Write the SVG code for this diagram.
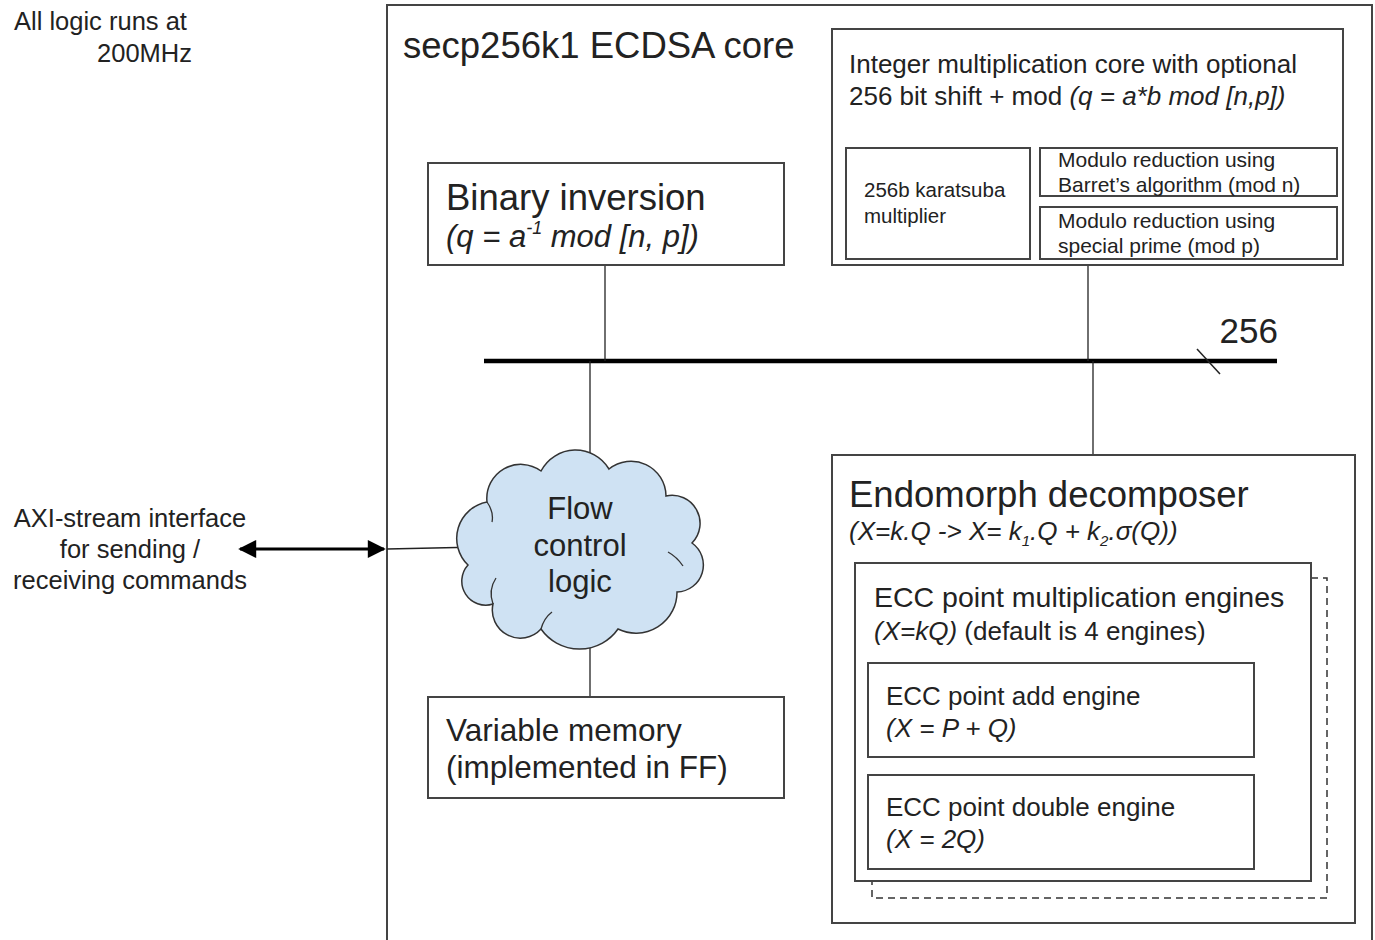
<svg xmlns="http://www.w3.org/2000/svg" width="1375" height="940" viewBox="0 0 1375 940">
<defs>
<style>
.box{fill:#fff;stroke:#444;stroke-width:2}
.ln{fill:none;stroke:#222;stroke-width:1.3}
text{font-family:"Liberation Sans",Arial,sans-serif;fill:#222}
.it{font-style:italic}
.hint{fill:none;stroke:#333;stroke-width:1.3}
</style>
<marker id="ah" viewBox="0 0 10 10" refX="9" refY="5" markerWidth="8" markerHeight="6" orient="auto-start-reverse" markerUnits="strokeWidth">
<path d="M0,0 L10,5 L0,10 z" fill="#000"/>
</marker>
</defs>
<rect width="1375" height="940" fill="#fff"/>

<g id="note">
<text x="14" y="30" font-size="25.5">All logic runs at</text>
<text x="192" y="62" font-size="25.5" text-anchor="end">200MHz</text>
</g>

<g id="axi-label">
<text x="130" y="527" font-size="25.5" text-anchor="middle">AXI-stream interface</text>
<text x="130" y="558" font-size="25.5" text-anchor="middle">for sending /</text>
<text x="130" y="589" font-size="25.5" text-anchor="middle">receiving commands</text>
</g>

<g id="core">
<path d="M387,945 V5 H1372 V945" class="box" fill="none"/>
<text x="403" y="58" font-size="36.5">secp256k1 ECDSA core</text>
</g>

<g id="connectors">
<line x1="484" y1="361" x2="1277" y2="361" stroke="#000" stroke-width="4.5"/>
<line x1="1197" y1="349" x2="1220" y2="374" stroke="#222" stroke-width="1.5"/>
<line x1="605" y1="265" x2="605" y2="361" class="ln"/>
<line x1="1088" y1="265" x2="1088" y2="361" class="ln"/>
<line x1="590" y1="361" x2="590" y2="500" class="ln"/>
<line x1="1093" y1="361" x2="1093" y2="455" class="ln"/>
<line x1="590" y1="600" x2="590" y2="697" class="ln"/>
<line x1="387" y1="549" x2="480" y2="547" class="ln"/>
<line x1="240" y1="549" x2="384" y2="549" stroke="#000" stroke-width="3" marker-start="url(#ah)" marker-end="url(#ah)"/>
<text x="1278" y="343" font-size="35" text-anchor="end">256</text>
</g>

<g id="integer-mult">
<rect x="832" y="29" width="511" height="236" class="box"/>
<text x="849" y="73" font-size="26">Integer multiplication core with optional</text>
<text x="849" y="105" font-size="26">256 bit shift + mod <tspan class="it">(q = a*b mod [n,p])</tspan></text>
</g>
<g id="karatsuba">
<rect x="846" y="148" width="184" height="111" class="box"/>
<text x="864" y="197" font-size="20.5">256b karatsuba</text>
<text x="864" y="223" font-size="20.5">multiplier</text>
</g>
<g id="barrett">
<rect x="1040" y="148" width="297" height="48" class="box"/>
<text x="1058" y="167" font-size="21">Modulo reduction using</text>
<text x="1058" y="192" font-size="21">Barret’s algorithm (mod n)</text>
</g>
<g id="special-prime">
<rect x="1040" y="207" width="297" height="52" class="box"/>
<text x="1058" y="228" font-size="21">Modulo reduction using</text>
<text x="1058" y="253" font-size="21">special prime (mod p)</text>
</g>

<g id="binary-inversion">
<rect x="428" y="163" width="356" height="102" class="box"/>
<text x="446" y="210" font-size="36.5">Binary inversion</text>
<text x="446" y="247" font-size="31" class="it">(q = a<tspan font-size="18" dy="-13">-1</tspan><tspan dy="13"> mod [n, p])</tspan></text>
</g>

<g id="flow-control">
<path d="M468,565 A37,37 0 0 1 487,502 A34,34 0 0 1 541,471 A39,39 0 0 1 609,469 A35,35 0 0 1 666,496 A28,28 0 0 1 692,543 A27,27 0 0 1 677,592 A41,41 0 0 1 618,629 A47,47 0 0 1 541,629 A28,28 0 0 1 493,604 A24,24 0 0 1 468,565 Z" fill="#cfe2f3" stroke="#333" stroke-width="1.5"/>
<path d="M668,552 Q677,557 683,566" class="hint"/>
<path d="M541,629 Q544,618 552,612" class="hint"/>
<path d="M493,604 Q488,590 496,578" class="hint"/>
<path d="M487,502 Q494,512 492,522" class="hint"/>
<text x="580" y="519" font-size="31" text-anchor="middle">Flow</text>
<text x="580" y="556" font-size="31" text-anchor="middle">control</text>
<text x="580" y="592" font-size="31" text-anchor="middle">logic</text>
</g>

<g id="variable-memory">
<rect x="428" y="697" width="356" height="101" class="box"/>
<text x="446" y="741" font-size="31.5">Variable memory</text>
<text x="446" y="778" font-size="31.5">(implemented in FF)</text>
</g>

<g id="endomorph">
<rect x="832" y="455" width="523" height="468" class="box"/>
<text x="849" y="507" font-size="36.5">Endomorph decomposer</text>
<text x="849" y="540" font-size="26" class="it">(X=k.Q -&gt; X= k<tspan font-size="15" dy="6">1</tspan><tspan dy="-6">.Q + k</tspan><tspan font-size="15" dy="6">2</tspan><tspan dy="-6">.σ(Q))</tspan></text>
</g>

<g id="ecc-mult">
<path d="M1311,578 H1327 V898 H872 V881" fill="none" stroke="#333" stroke-width="1.5" stroke-dasharray="7,5"/>
<rect x="855" y="563" width="456" height="318" class="box"/>
<text x="874" y="607" font-size="28.5">ECC point multiplication engines</text>
<text x="874" y="640" font-size="26"><tspan class="it">(X=kQ)</tspan> (default is 4 engines)</text>
</g>
<g id="ecc-add">
<rect x="868" y="663" width="386" height="94" class="box"/>
<text x="886" y="705" font-size="26">ECC point add engine</text>
<text x="886" y="737" font-size="26" class="it">(X = P + Q)</text>
</g>
<g id="ecc-double">
<rect x="868" y="775" width="386" height="94" class="box"/>
<text x="886" y="816" font-size="26">ECC point double engine</text>
<text x="886" y="848" font-size="26" class="it">(X = 2Q)</text>
</g>
</svg>
